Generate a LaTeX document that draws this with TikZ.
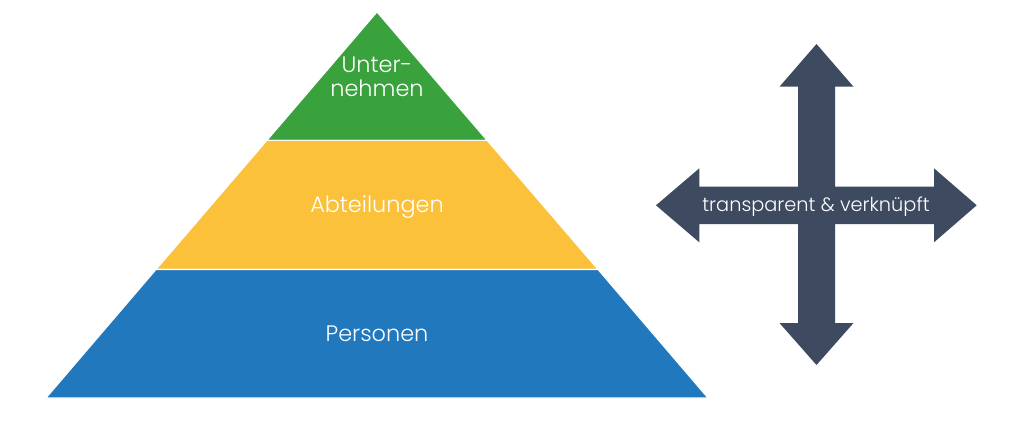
\documentclass[tikz,border=0pt]{standalone}
\usepackage{fontspec}
\setmainfont{Poppins}[UprightFont=* Light]
\definecolor{pgreen}{HTML}{3AA23D}
\definecolor{pyellow}{HTML}{FBC13A}
\definecolor{pblue}{HTML}{2178BD}
\definecolor{pdark}{HTML}{3D4A5F}
\begin{document}
\begin{tikzpicture}[x=0.75pt,y=-0.75pt,
  layer/.style={draw=white,line width=0.8pt},
  lbl/.style={text=white,font=\fontsize{16.8}{18}\selectfont,align=center,inner sep=0pt},
  arrowlbl/.style={text=white,font=\fontsize{14.5}{17}\selectfont,inner sep=0pt}]
\fill[white] (0,0) rectangle (1024,426);
\useasboundingbox (0,0) rectangle (1024,426);
% pyramid layers
\filldraw[layer,fill=pgreen] (377,12) -- (487,140.3) -- (267,140.3) -- cycle;
\filldraw[layer,fill=pyellow] (267,140.3) -- (487,140.3) -- (598,269.5) -- (156,269.5) -- cycle;
\filldraw[layer,fill=pblue] (156,269.5) -- (598,269.5) -- (708,398) -- (46,398) -- cycle;
\node[lbl] (unternehmen) at (377,77) {Unter-\\nehmen};
\node[lbl] (abteilungen) at (377,207) {Abteilungen};
\node[lbl] (personen) at (377,334) {Personen};
% cross arrow
\fill[pdark] (816.5,44) -- (853.5,86.7) -- (835,86.7) -- (835,186.7) -- (934,186.7) -- (934,168.3)
  -- (976.7,205.3) -- (934,242.3) -- (934,224) -- (835,224) -- (835,323) -- (853.5,323)
  -- (816.5,365) -- (779.5,323) -- (798,323) -- (798,224) -- (699.3,224) -- (699.3,242.3)
  -- (656,205.3) -- (699.3,168.3) -- (699.3,186.7) -- (798,186.7) -- (798,86.7) -- (779.5,86.7) -- cycle;
\node[arrowlbl] (cross) at (816,207) {transparent \& verknüpft};
\end{tikzpicture}
\end{document}
